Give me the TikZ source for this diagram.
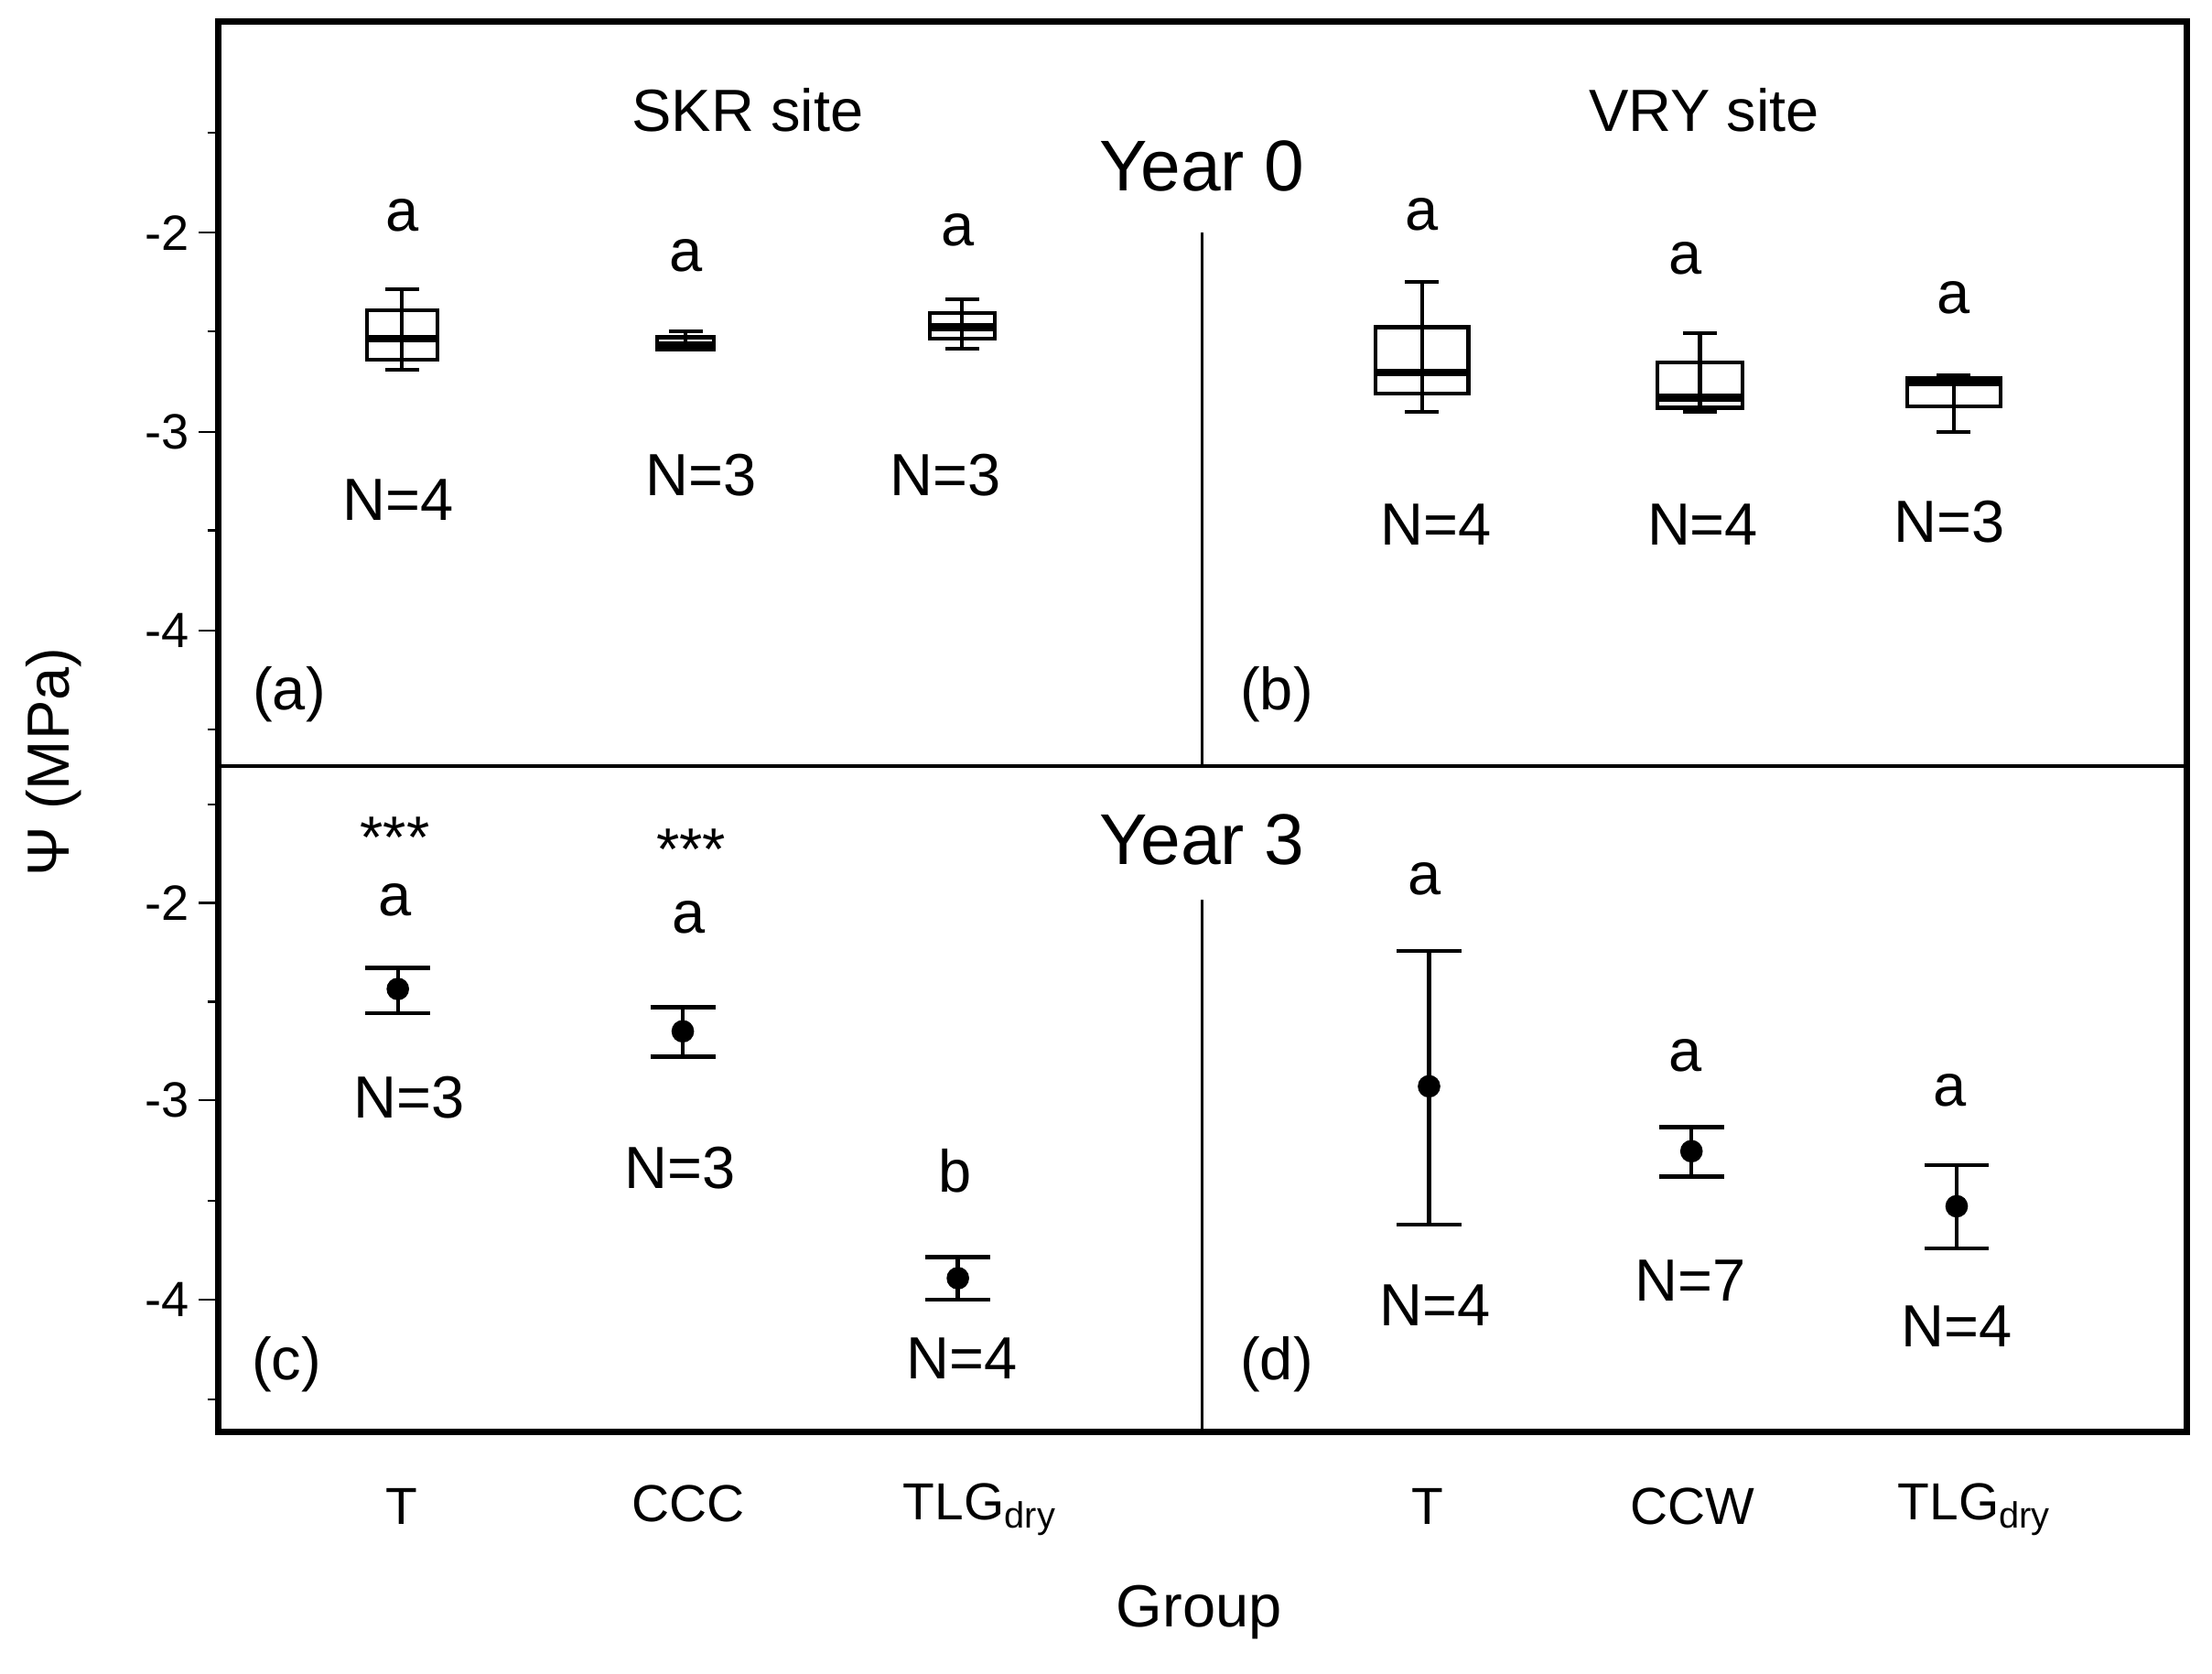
\documentclass[tikz,border=0pt]{standalone}
\usepackage{fontspec}
\setmainfont{Liberation Sans}
\begin{document}
\begin{tikzpicture}[x=0.1mm,y=-0.1mm,
  lbl/.style={inner sep=0pt,font=\fontsize{12}{14}\selectfont},
  big/.style={inner sep=0pt,font=\fontsize{14.5}{17}\selectfont},
  tick/.style={inner sep=0pt,anchor=east,font=\fontsize{10}{11}\selectfont},
  grp/.style={inner sep=0pt,font=\fontsize{10.5}{12}\selectfont},
  frame/.style={line width=1.3pt},
  plot/.style={line width=0.8pt}]
\useasboundingbox (0,0) rectangle (1568,1186);
\draw[frame] (155,15) rectangle (1550,1015);
\draw[line width=0.6pt] (155,543) -- (1550,543);
\draw[line width=0.6pt] (852,165) -- (852,543);
\draw[line width=0.6pt] (852,638) -- (852,1015);
% ticks
\foreach \y in {165,306,447} \draw (141,\y) -- (155,\y);
\foreach \y in {94,235,376,517} \draw (147,\y) -- (155,\y);
\foreach \y in {640,780,921} \draw (141,\y) -- (155,\y);
\foreach \y in {570,710,851,992} \draw (147,\y) -- (155,\y);
\node[tick] (t1) at (135,165) {-2};
\node[tick] (t2) at (135,306) {-3};
\node[tick] (t3) at (135,447) {-4};
\node[tick] (t4) at (135,640) {-2};
\node[tick] (t5) at (135,780) {-3};
\node[tick] (t6) at (135,921) {-4};
\node[lbl,rotate=90] (ylab) at (38,540) {Ψ (MPa)};
% box plots: x, half width, whisker top, box top, median, box bottom, whisker bottom
\foreach \x/\w/\a/\b/\m/\c/\d in {285/25/205/220/240/255/262, 486/20/235/239/245/248/248, 682/23/212/222/232/240/247, 1008/33/200/232/264/279/292, 1205/30/236/257/282/289/292, 1385/33/266/268/271/288/306}{
  \draw[plot] (\x,\a) -- (\x,\d);
  \draw[plot] (\x-12,\a) -- (\x+12,\a);
  \draw[plot] (\x-12,\d) -- (\x+12,\d);
  \draw[plot,fill=white] (\x-\w,\b) rectangle (\x+\w,\c);
  \draw[plot] (\x,\b) -- (\x,\c);
  \draw[line width=1.6pt] (\x-\w,\m) -- (\x+\w,\m);
}
% mean +- error
\foreach \x/\m/\t/\b in {282/701/686/718, 484/731/714/749, 679/906/891/921, 1013/770/674/868, 1199/816/799/834, 1387/855/826/885}{
  \draw[plot] (\x,\t) -- (\x,\b);
  \draw[plot] (\x-23,\t) -- (\x+23,\t);
  \draw[plot] (\x-23,\b) -- (\x+23,\b);
  \fill (\x,\m) circle[radius=8];
}
% titles
\node[lbl] (skr) at (530,78) {SKR site};
\node[lbl] (vry) at (1208,78) {VRY site};
\node[big] (y0) at (852,118) {Year 0};
\node[big] (y3) at (852,595) {Year 3};
% letters
\node[lbl] (a1) at (285,153) {a};
\node[lbl] (a2) at (486,181) {a};
\node[lbl] (a3) at (679,163) {a};
\node[lbl] (a4) at (1008,152) {a};
\node[lbl] (a5) at (1195,183) {a};
\node[lbl] (a6) at (1385,211) {a};
\node[lbl] (n1) at (282,354) {N=4};
\node[lbl] (n2) at (497,337) {N=3};
\node[lbl] (n3) at (670,337) {N=3};
\node[lbl] (n4) at (1018,372) {N=4};
\node[lbl] (n5) at (1207,372) {N=4};
\node[lbl] (n6) at (1382,370) {N=3};
\node[lbl] (pa) at (205,492) {(a)};
\node[lbl] (pb) at (905,492) {(b)};
\node[lbl] (pc) at (203,967) {(c)};
\node[lbl] (pd) at (905,967) {(d)};
\node[lbl] (s1) at (280,594) {***};
\node[lbl] (b1) at (280,638) {a};
\node[lbl] (s2) at (490,602) {***};
\node[lbl] (b2) at (488,650) {a};
\node[lbl] (b3) at (677,830) {b};
\node[lbl] (m1) at (290,778) {N=3};
\node[lbl] (m2) at (482,828) {N=3};
\node[lbl] (m3) at (682,963) {N=4};
\node[lbl] (b4) at (1010,623) {a};
\node[lbl] (m4) at (1017,925) {N=4};
\node[lbl] (b5) at (1195,748) {a};
\node[lbl] (m5) at (1198,908) {N=7};
\node[lbl] (b6) at (1382,773) {a};
\node[lbl] (m6) at (1387,940) {N=4};
% group labels
\node[grp] (g1) at (285,1068) {T};
\node[grp] (g2) at (488,1066) {CCC};
\node[grp] (g3) at (695,1070) {TLG\textsubscript{dry}};
\node[grp] (g4) at (1012,1068) {T};
\node[grp] (g5) at (1200,1068) {CCW};
\node[grp] (g6) at (1400,1070) {TLG\textsubscript{dry}};
\node[lbl] (grp) at (850,1143) {Group};
\end{tikzpicture}
\end{document}
